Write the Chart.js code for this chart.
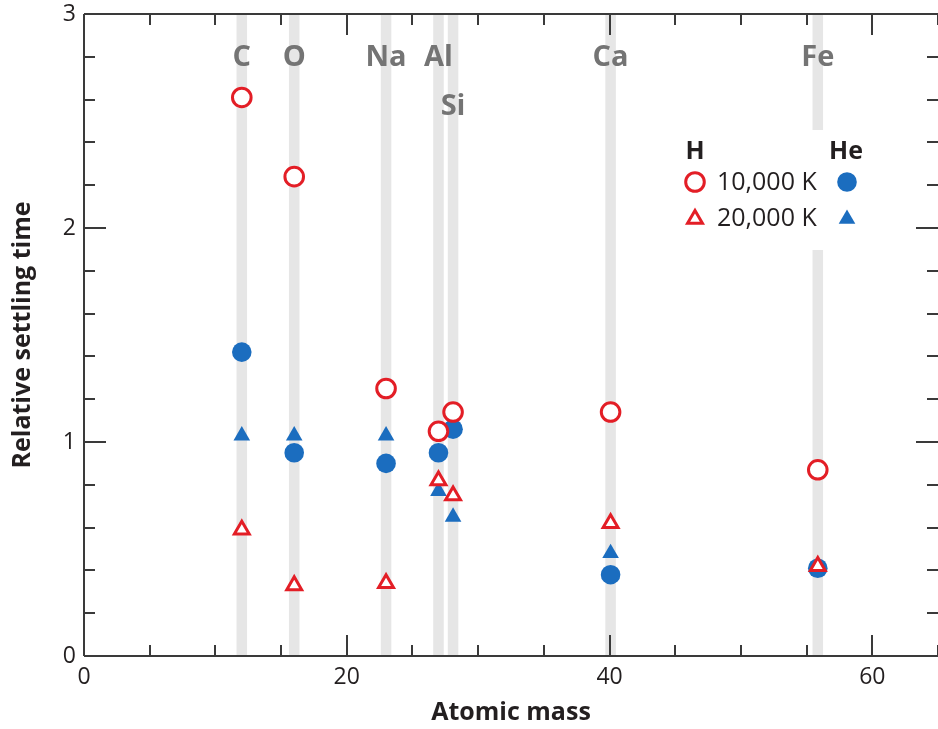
<!DOCTYPE html>
<html><head><meta charset="utf-8">
<script src="https://cdn.jsdelivr.net/npm/chart.js@4/dist/chart.umd.min.js"></script>
<style>html,body{margin:0;padding:0;background:#fff;overflow:hidden}</style>
</head><body>
<canvas id="c" width="938" height="729" style="display:block"></canvas>
<script>
// ---- data ----
const elements   = ['C', 'O', 'Na', 'Al', 'Si', 'Ca', 'Fe'];
const atomicMass = [12.01, 16.00, 22.99, 26.98, 28.09, 40.08, 55.85];
const labelRow   = [0, 0, 0, 0, 1, 0, 0];
const h10000  = [2.61, 2.24, 1.25, 1.05, 1.14, 1.14, 0.87];
const h20000  = [0.59, 0.33, 0.34, 0.82, 0.75, 0.62, 0.42];
const he10000 = [1.42, 0.95, 0.90, 0.95, 1.06, 0.38, 0.41];
const he20000 = [1.03, 1.03, 1.03, 0.77, 0.65, 0.48, 0.42];
const xTicks = [0, 20, 40, 60];
const yTicks = [0, 1, 2, 3];
const xMinorStep = 5;
const yMinorStep = 0.2;
const legendHeaders = ['H', 'He'];
const legendLabels = ['10,000 K', '20,000 K'];
const xTitle = 'Atomic mass';
const yTitle = 'Relative settling time';

// ---- style ----
const RED = '#e31e26', BLUE = '#1b6dbf', AXIS = '#3a3a3a', TXT = '#231f20', GREY = '#747474', BAND = '#e6e6e6';
const FONT = '"Open Sans", "Noto Sans", sans-serif';

const pts = arr => atomicMass.map((m, i) => ({x: m, y: arr[i]}));

const deco = {
  id: 'deco',
  beforeDatasetsDraw(chart) {
    const {ctx, chartArea: a, scales: {x, y}} = chart;
    ctx.save();
    // element bands
    ctx.fillStyle = BAND;
    atomicMass.forEach(m => {
      const l = x.getPixelForValue(m - 0.4), r = x.getPixelForValue(m + 0.4);
      ctx.fillRect(l, a.top, r - l, a.bottom - a.top);
    });
    // legend background
    ctx.fillStyle = '#fff';
    ctx.fillRect(672, 130, 200, 120);
    // element labels
    ctx.fillStyle = GREY;
    ctx.font = 'bold 29px ' + FONT;
    ctx.textAlign = 'center';
    ctx.textBaseline = 'middle';
    elements.forEach((e, i) => {
      ctx.fillText(e, x.getPixelForValue(atomicMass[i]), 58 + labelRow[i] * 49);
    });
    ctx.restore();
  },
  afterDatasetsDraw(chart) {
    const {ctx, chartArea: a, scales: {x, y}} = chart;
    ctx.save();
    // frame (right edge lies outside the picture)
    ctx.strokeStyle = AXIS;
    ctx.lineWidth = 2;
    ctx.beginPath();
    ctx.moveTo(a.left, a.top); ctx.lineTo(a.right, a.top);
    ctx.moveTo(a.left, a.bottom); ctx.lineTo(a.right, a.bottom);
    ctx.moveTo(a.left, a.top); ctx.lineTo(a.left, a.bottom);
    ctx.stroke();
    // ticks
    ctx.beginPath();
    for (let v = x.min; v <= x.max + 1e-9; v += xMinorStep) {
      const px = Math.round(x.getPixelForValue(v));
      const len = xTicks.includes(v) ? 21 : 11;
      ctx.moveTo(px, a.bottom); ctx.lineTo(px, a.bottom - len);
      ctx.moveTo(px, a.top); ctx.lineTo(px, a.top + len);
    }
    for (let k = 0; k * yMinorStep <= y.max + 1e-9; k++) {
      const v = k * yMinorStep;
      const py = Math.round(y.getPixelForValue(v));
      const major = yTicks.some(t => Math.abs(t - v) < 1e-6);
      const len = major ? 22 : 11;
      ctx.moveTo(a.left, py); ctx.lineTo(a.left + len, py);
      ctx.moveTo(a.right, py); ctx.lineTo(a.right - len, py);
    }
    ctx.stroke();
    // legend
    const H = Chart.helpers;
    ctx.fillStyle = TXT;
    ctx.textAlign = 'center';
    ctx.textBaseline = 'middle';
    ctx.font = 'bold 25px ' + FONT;
    ctx.fillText(legendHeaders[0], 695, 152);
    ctx.fillText(legendHeaders[1], 846, 152);
    ctx.font = '25px ' + FONT;
    ctx.textAlign = 'left';
    ctx.fillText(legendLabels[0], 717, 183);
    ctx.fillText(legendLabels[1], 717, 219);
    const ds = chart.data.datasets;
    const marks = [[ds[0], 695, 182], [ds[2], 847, 182], [ds[1], 695, 219], [ds[3], 847, 219]];
    marks.forEach(([d, px, py]) => {
      ctx.fillStyle = d.backgroundColor;
      ctx.strokeStyle = d.borderColor;
      ctx.lineWidth = d.borderWidth;
      H.drawPoint(ctx, {pointStyle: d.pointStyle, radius: d.pointRadius, borderWidth: d.borderWidth, rotation: 0}, px, py);
    });
    ctx.restore();
  }
};

new Chart(document.getElementById('c'), {
  type: 'scatter',
  data: {
    datasets: [
      {label: 'H 10,000 K', data: pts(h10000), pointStyle: 'circle', pointRadius: 9.3, borderWidth: 3, borderColor: RED, backgroundColor: '#fff'},
      {label: 'H 20,000 K', data: pts(h20000), pointStyle: 'triangle', pointRadius: 8.6, borderWidth: 3, borderColor: RED, backgroundColor: '#fff'},
      {label: 'He 10,000 K', data: pts(he10000), pointStyle: 'circle', pointRadius: 9.8, borderWidth: 0, borderColor: BLUE, backgroundColor: BLUE},
      {label: 'He 20,000 K', data: pts(he20000), pointStyle: 'triangle', pointRadius: 9.6, borderWidth: 0, borderColor: BLUE, backgroundColor: BLUE}
    ]
  },
  options: {
    responsive: false,
    animation: false,
    events: [],
    layout: {autoPadding: false, padding: {top: 14, right: -2, left: 0, bottom: 0}},
    plugins: {legend: {display: false}, tooltip: {enabled: false}},
    scales: {
      x: {
        type: 'linear', min: 0, max: 65,
        afterBuildTicks: s => { s.ticks = xTicks.map(v => ({value: v})); },
        afterFit: s => { s.height = 73; s.paddingLeft = 0; s.paddingRight = 0; },
        grid: {display: false, drawTicks: false},
        border: {display: false},
        ticks: {padding: 8, color: TXT, font: {family: FONT, size: 23}},
        title: {display: true, text: xTitle, color: TXT, font: {family: FONT, size: 25, weight: 'bold'}, padding: {top: 0, bottom: 1}}
      },
      y: {
        type: 'linear', min: 0, max: 3,
        afterBuildTicks: s => { s.ticks = yTicks.map(v => ({value: v})); },
        afterFit: s => { s.width = 84; s.paddingTop = 0; s.paddingBottom = 0; },
        grid: {display: false, drawTicks: false},
        border: {display: false},
        ticks: {padding: 8, color: TXT, font: {family: FONT, size: 23}},
        title: {display: true, text: yTitle, color: TXT, font: {family: FONT, size: 25, weight: 'bold'}, padding: {top: 8, bottom: 0}}
      }
    }
  },
  plugins: [deco]
});
</script>
</body></html>
